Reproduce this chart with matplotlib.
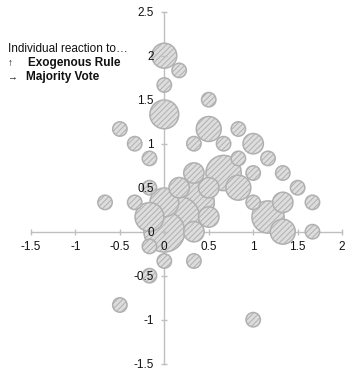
import matplotlib
matplotlib.use("Agg")
import matplotlib.pyplot as plt
import numpy as np

plt.rcParams['font.family'] = ['Liberation Sans', 'DejaVu Sans']
plt.rcParams['hatch.linewidth'] = 0.7

# Data: reaction to majority vote (x), reaction to exogenous rule (y), count (bubble size)
x_vals = [0, 0.167, 0, 0.5, 0, 0.5, 0.833, -0.5, -0.333, 0.333, 0.667, 1.0,
          -0.167, 0.833, 1.167, 1.0, 1.333, 1.5, 1.667, 1.667, 1.0, 1.333,
          1.167, 1.333, 0.833, 0.667, 0.5, 0.333, 0.167, 0.333, 0.5, 0.333,
          0.167, 0, -0.167, 0, -0.333, -0.667, -0.167, 0, 0.333, -0.167,
          -0.5, 1.0, -0.167]
y_vals = [2.0, 1.833, 1.667, 1.5, 1.333, 1.167, 1.167, 1.167, 1.0, 1.0, 1.0, 1.0,
          0.833, 0.833, 0.833, 0.667, 0.667, 0.5, 0.333, 0, 0.333, 0.333,
          0.167, 0, 0.5, 0.667, 0.5, 0.667, 0.5, 0.333, 0.167, 0,
          0.167, 0.333, 0.167, 0, 0.333, 0.333, -0.167, -0.333, -0.333, -0.5,
          -0.833, -1.0, 0.5]
counts = [3, 1, 1, 1, 4, 3, 1, 1, 1, 1, 1, 2,
          1, 1, 1, 1, 1, 1, 1, 1, 1, 2,
          5, 3, 3, 6, 2, 2, 2, 8, 2, 2,
          8, 4, 4, 8, 1, 1, 1, 1, 1, 1,
          1, 1, 1]

xticks = [-1.5, -1, -0.5, 0, 0.5, 1, 1.5, 2]
xtick_labels = ['-1.5', '-1', '-0.5', '0', '0.5', '1', '1.5', '2']
yticks = [-1.5, -1, -0.5, 0, 0.5, 1, 1.5, 2, 2.5]
ytick_labels = ['-1.5', '-1', '-0.5', '0', '0.5', '1', '1.5', '2', '2.5']

fig = plt.figure(figsize=(3.46, 3.68), dpi=100)
ax = fig.add_axes([0.0896, 0.0117, 0.899, 0.9565])

x = np.array(x_vals)
y = np.array(y_vals)
c = np.array(counts, dtype=float)
order = np.argsort(-c, kind='stable')
# radius in px ~ 7.2*sqrt(count); s in pt^2
r_pt = 7.2 * np.sqrt(c) * 0.72
s = (2 * r_pt) ** 2
ax.scatter(x[order], y[order], s=s[order], facecolor='#DDDDDD', edgecolor='#B0B0B0',
           linewidth=1.1, hatch='//////', zorder=3)

ax.set_xlim(-1.5, 2)
ax.set_ylim(-1.5, 2.5)
ax.spines['left'].set_position(('data', 0))
ax.spines['bottom'].set_position(('data', 0))
ax.spines['top'].set_visible(False)
ax.spines['right'].set_visible(False)
for sp in ('left', 'bottom'):
    ax.spines[sp].set_color('#BFBFBF')
    ax.spines[sp].set_linewidth(1.0)
    ax.spines[sp].set_zorder(2)
ax.set_xticks(xticks)
ax.set_xticklabels(xtick_labels)
ax.set_yticks(yticks)
ax.set_yticklabels(ytick_labels)
ax.tick_params(axis='both', direction='inout', length=5, width=1.0, color='#BFBFBF',
               labelsize=8.5, labelcolor='#111111')
ax.tick_params(axis='y', pad=5)
ax.tick_params(axis='x', pad=4)
ax.xaxis.set_zorder(4)
ax.yaxis.set_zorder(4)
ax.set_facecolor('none')

fig.text(8 / 346, 1 - 49 / 368, 'Individual reaction to\u2026', fontsize=8.5, va='center', ha='left', color='#111111')
fig.text(8 / 346, 1 - 63 / 368, '\u2191', fontsize=7, va='center', ha='left', color='#111111')
fig.text(28 / 346, 1 - 63 / 368, 'Exogenous Rule', fontsize=8.5, fontweight='bold', va='center', ha='left', color='#111111')
fig.text(7 / 346, 1 - 77 / 368, '\u2192', fontsize=7, va='center', ha='left', color='#111111')
fig.text(26 / 346, 1 - 77 / 368, 'Majority Vote', fontsize=8.5, fontweight='bold', va='center', ha='left', color='#111111')

fig.savefig('out.png', dpi=100)
